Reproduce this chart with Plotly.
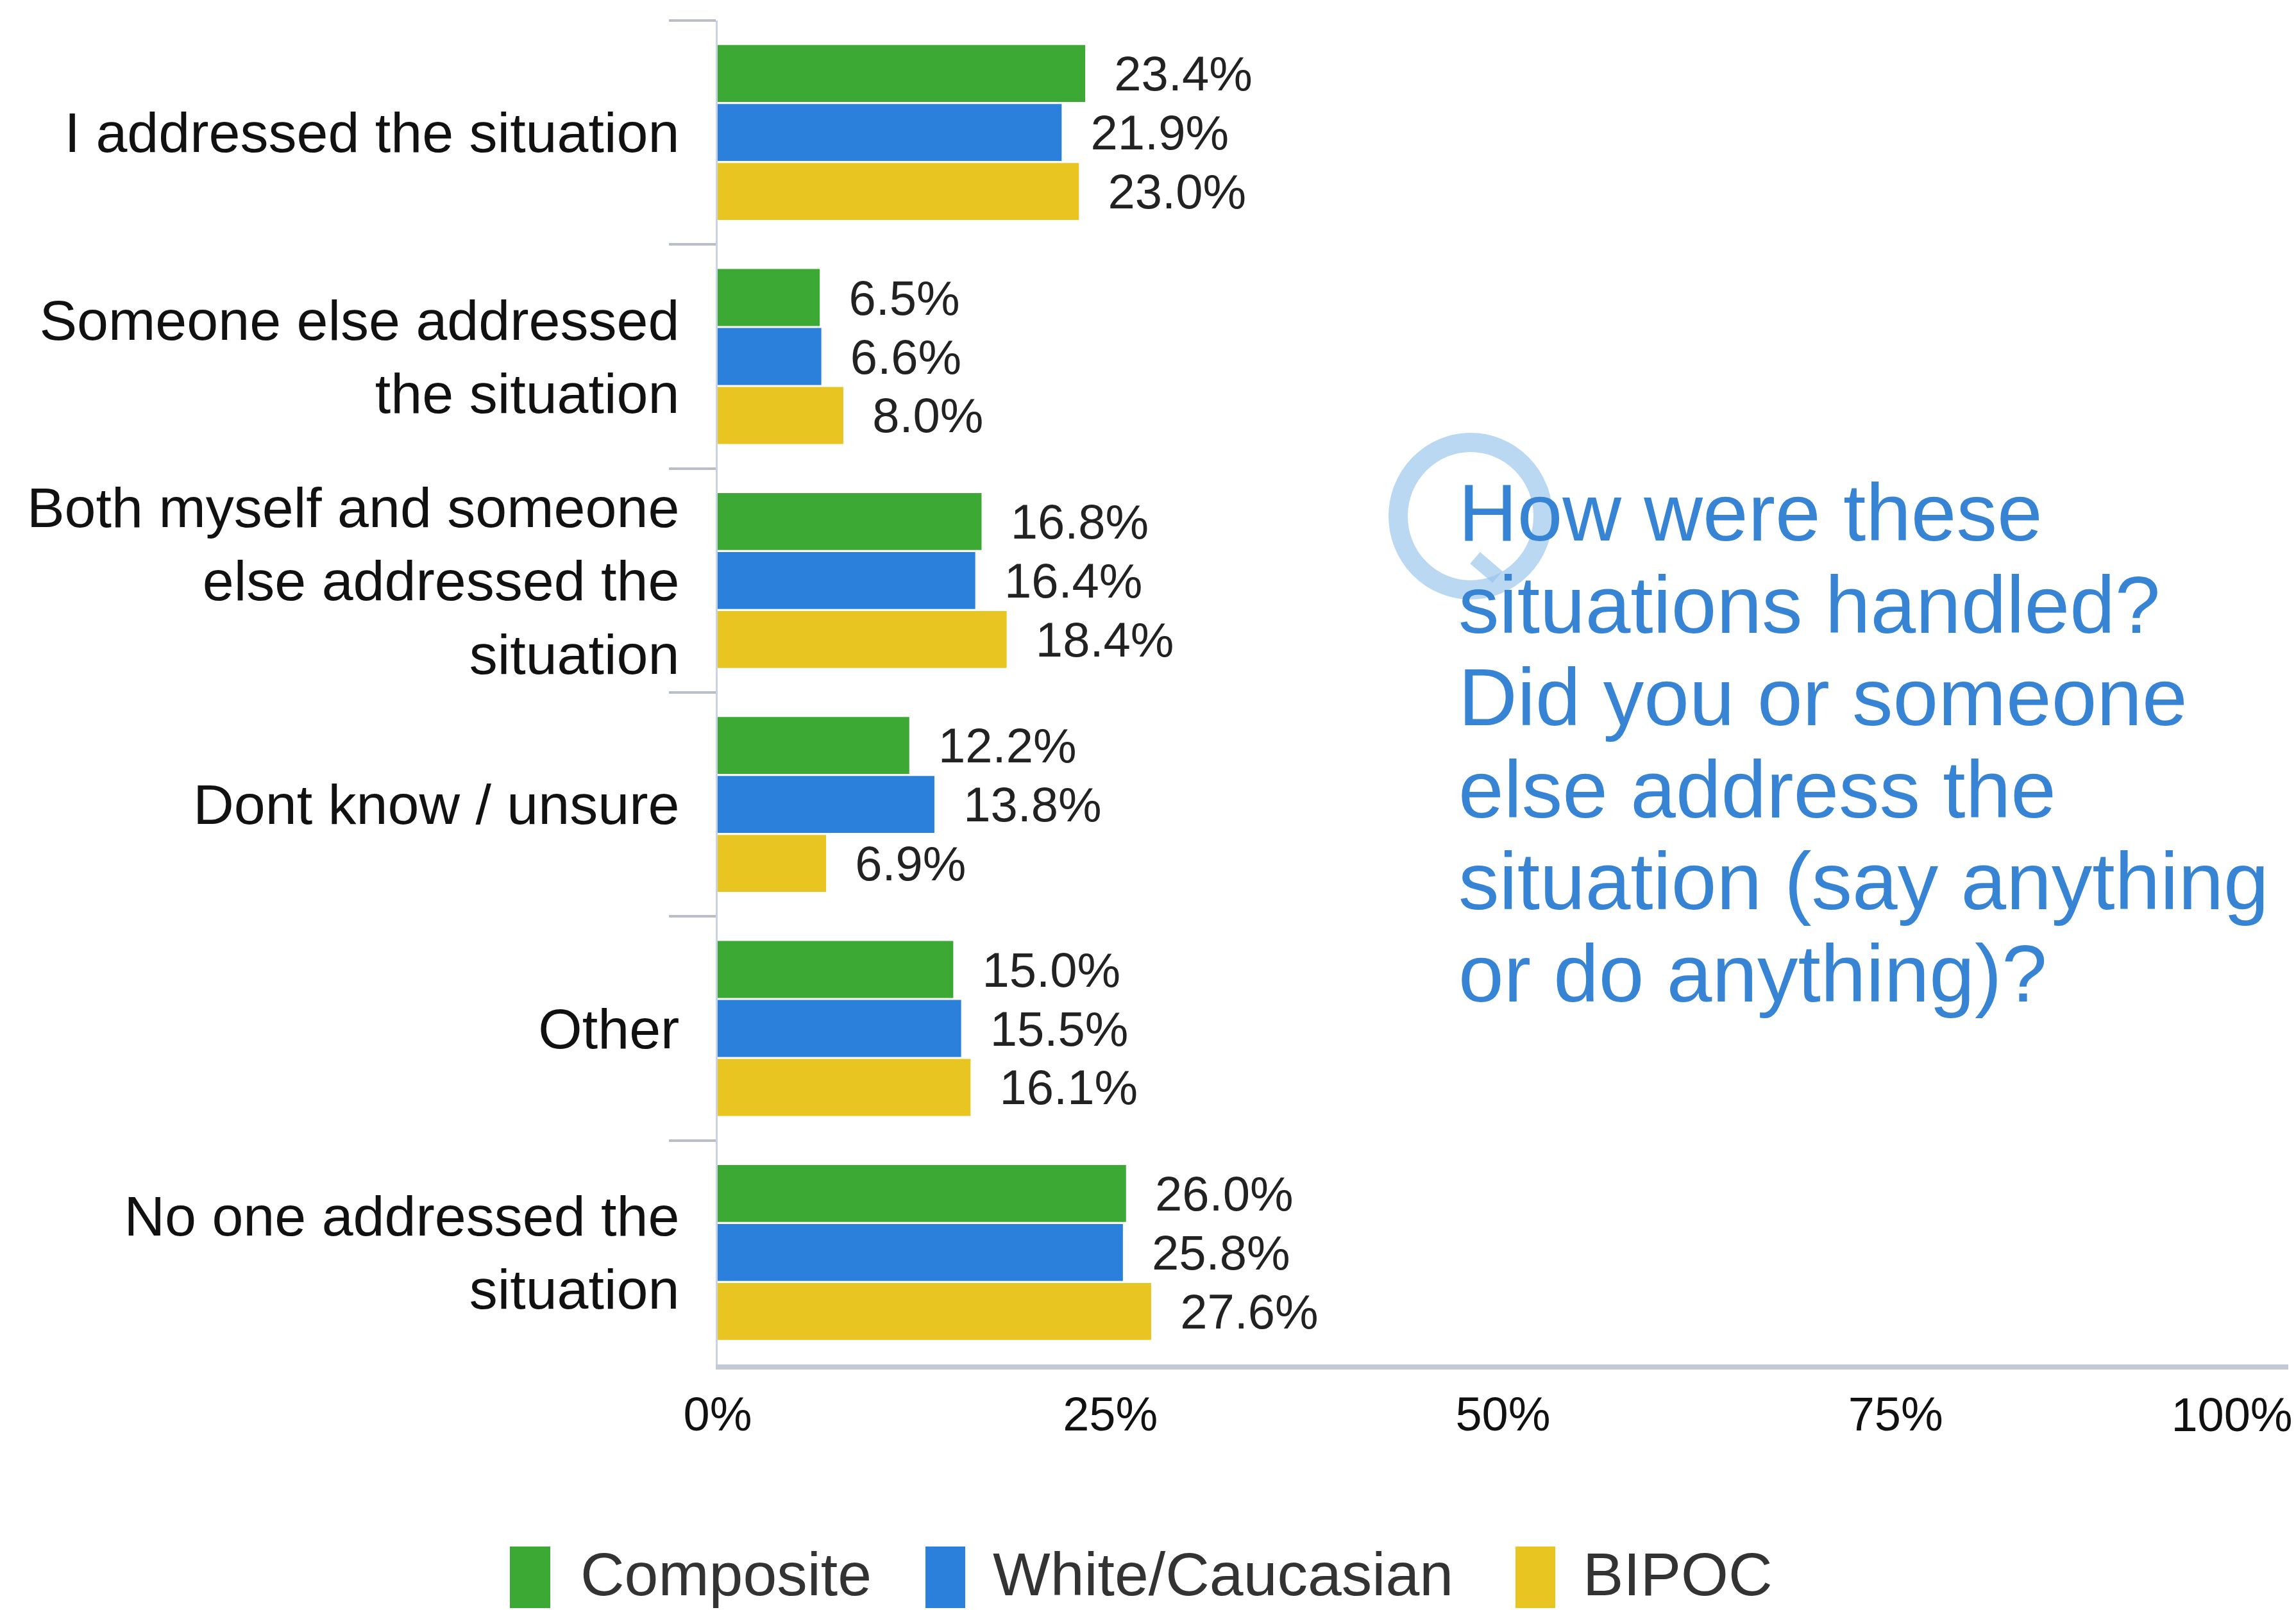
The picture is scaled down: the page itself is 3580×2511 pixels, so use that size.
import plotly.graph_objects as go

# Survey responses: how the situations were handled
categories = [
    "I addressed the situation",
    "Someone else addressed<br>the situation",
    "Both myself and someone<br>else addressed the<br>situation",
    "Dont know / unsure",
    "Other",
    "No one addressed the<br>situation",
]
composite = [23.4, 6.5, 16.8, 12.2, 15.0, 26.0]
white_caucasian = [21.9, 6.6, 16.4, 13.8, 15.5, 25.8]
bipoc = [23.0, 8.0, 18.4, 6.9, 16.1, 27.6]

series_names = ["Composite", "White/Caucasian", "BIPOC"]
series_colors = ["#3DA935", "#2A80DB", "#E8C520"]
x_tick_vals = [0, 25, 50, 75]
x_tick_text = ["0%", "25%", "50%", "75%"]
x_end_val, x_end_text = 100, "100%"

question_lines = [
    "How were these",
    "situations handled?",
    "Did you or someone",
    "else address the",
    "situation (say anything",
    "or do anything)?",
]

W, H = 3580, 2511
ML, MR, MT, MB = 1119, 12, 32, 383
PW, PH = W - ML - MR, H - MT - MB
FONT = "Liberation Sans, Arial, sans-serif"
TICKFONT = dict(family=FONT, size=74, color="#111111")


def px_x(p):
    return (p - ML) / PW


def px_y(p):
    return 1 - (p - MT) / PH


fig = go.Figure()
for name, vals, color in zip(series_names, [composite, white_caucasian, bipoc], series_colors):
    fig.add_trace(go.Bar(
        y=categories,
        x=vals,
        name=name,
        orientation="h",
        marker=dict(color=color, line=dict(width=0)),
        texttemplate="\u00a0\u00a0%{x:.1f}%",
        textposition="outside",
        textfont=dict(family=FONT, size=76, color="#222222"),
        constraintext="none",
        cliponaxis=False,
        showlegend=False,
    ))

# empty trace that registers the overlay axis holding the end tick label
fig.add_trace(go.Scatter(x=[], y=[], xaxis="x2", yaxis="y", mode="markers",
                         showlegend=False, hoverinfo="skip"))

shapes = []
annotations = []

# Legend swatches and labels
legend_items = [(795, 858, 903), (1443, 1505, 1546), (2363, 2425, 2466)]
for (x0, x1, tx), name, color in zip(legend_items, series_names, series_colors):
    shapes.append(dict(type="rect", xref="paper", yref="paper",
                       x0=px_x(x0), x1=px_x(x1), y0=px_y(2412), y1=px_y(2508),
                       fillcolor=color, line=dict(width=0)))
    annotations.append(dict(xref="paper", yref="paper", x=px_x(tx), y=px_y(2455),
                            text=name, showarrow=False, xanchor="left", yanchor="middle",
                            font=dict(family=FONT, size=95, color="#333333")))

# Question text block, one line per annotation
line_centers = [799, 943, 1087, 1231, 1374, 1518]
for line, cy in zip(question_lines, line_centers):
    annotations.append(dict(xref="paper", yref="paper", x=px_x(2272), y=px_y(cy),
                            text=line, showarrow=False, xanchor="left", yanchor="middle",
                            font=dict(family=FONT, size=127, color="#3684D3")))

# Faint ring icon behind the question
shapes.append(dict(type="circle", xref="paper", yref="paper",
                   x0=px_x(2180), x1=px_x(2406), y0=px_y(690), y1=px_y(920),
                   line=dict(color="rgba(150,195,235,0.65)", width=30), layer="below"))
shapes.append(dict(type="line", xref="paper", yref="paper",
                   x0=px_x(2300), x1=px_x(2335), y0=px_y(870), y1=px_y(900),
                   line=dict(color="rgba(150,195,235,0.65)", width=24), layer="below"))

fig.update_layout(
    width=W, height=H,
    margin=dict(l=ML, r=MR, t=MT, b=MB, pad=0, autoexpand=False),
    paper_bgcolor="white", plot_bgcolor="white",
    barmode="group", bargap=0.21, bargroupgap=0.035,
    font=dict(family=FONT, color="#222222"),
    shapes=shapes, annotations=annotations,
    showlegend=False,
    xaxis=dict(
        range=[0, 100], tickvals=x_tick_vals, ticktext=x_tick_text,
        showgrid=False, zeroline=False, automargin=False,
        showline=True, linecolor="#C3CAD6", linewidth=8,
        ticks="", ticklabelstandoff=6, ticklabeloverflow="allow",
        tickfont=TICKFONT,
    ),
    # overlay axis carrying only the end tick, nudged left so it stays on the page
    xaxis2=dict(
        overlaying="x", anchor="y", side="bottom", range=[0, 100],
        tickvals=[x_end_val], ticktext=[x_end_text],
        showgrid=False, zeroline=False, showline=False, automargin=False,
        ticks="", ticklabelstandoff=29, ticklabelshift=-88,
        ticklabeloverflow="allow", tickfont=TICKFONT, fixedrange=True,
    ),
    yaxis=dict(
        categoryorder="array", categoryarray=categories, autorange="reversed",
        showgrid=False, zeroline=False, automargin=False,
        showline=True, linecolor="#C9D3E4", linewidth=3,
        ticks="outside", tickson="boundaries", ticklen=73, tickwidth=4, tickcolor="#B9BEC8",
        ticklabelstandoff=39,
        tickfont=dict(family=FONT, size=88, color="#111111"),
    ),
)

fig.write_html("out.html")
